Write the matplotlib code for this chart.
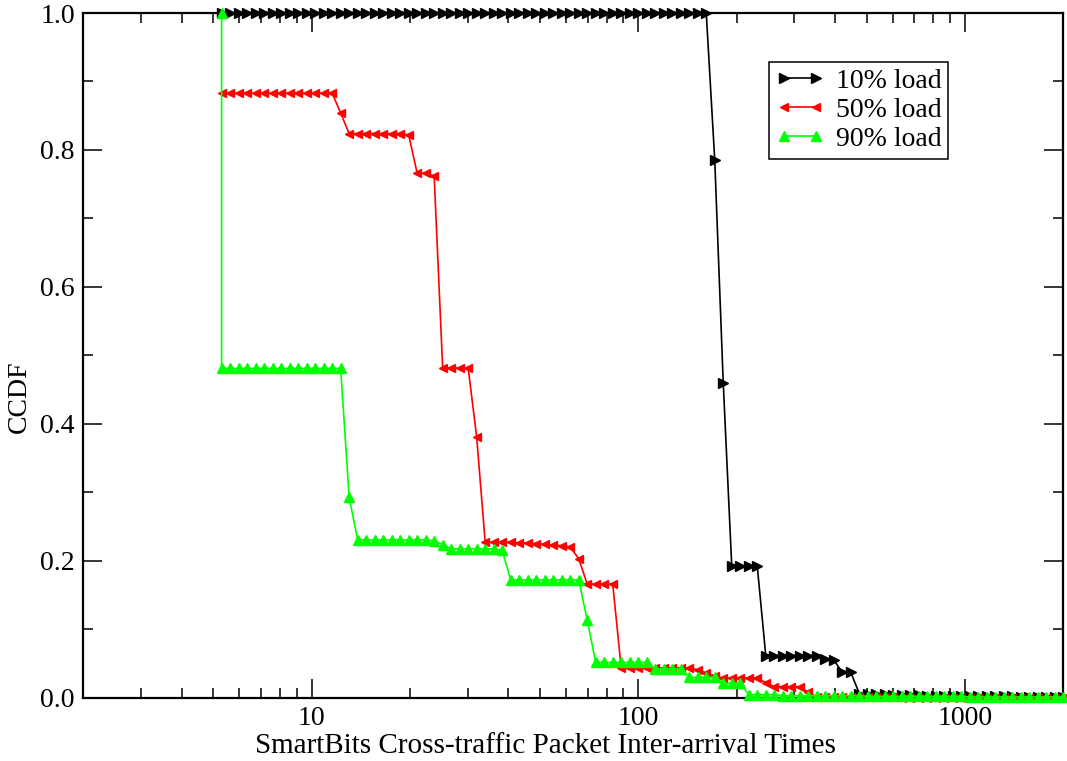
import numpy as np
import matplotlib
matplotlib.use('Agg')
import matplotlib.pyplot as plt
from matplotlib.ticker import LogLocator, FixedLocator, FuncFormatter, MultipleLocator

plt.rcParams['font.family'] = ['Liberation Serif', 'DejaVu Serif']
plt.rcParams['font.size'] = 20

# sample grid: 100 points evenly spaced on the log axis, 5.3 .. 2000
x_first = 5.3
x_last = 2000
n_points = 100

# CCDF curves as (level, run length) pairs
black_levels = [1.0, 0.785, 0.459, 0.192, 0.0614, 0.057, 0.055, 0.037,
                0.006, 0.005, 0.004, 0.003, 0.002, 0.001]
black_runs = [58, 1, 1, 4, 7, 1, 1, 2, 1, 3, 4, 5, 6, 6]

red_levels = [0.883, 0.854, 0.824, 0.822, 0.766, 0.762, 0.4815, 0.3806,
              0.227, 0.226, 0.225, 0.224, 0.223, 0.222, 0.220, 0.203, 0.166,
              0.043, 0.041, 0.036, 0.032, 0.0285, 0.022, 0.016, 0.008,
              0.001, 0.0]
red_runs = [14, 1, 7, 1, 2, 1, 4, 1,
            4, 2, 1, 1, 1, 1, 1, 1, 4,
            9, 1, 1, 1, 5, 1, 4, 1,
            10, 20]

green_levels = [0.481, 0.293, 0.2305, 0.229, 0.2237, 0.2174, 0.215, 0.172,
                0.1135, 0.0516, 0.042, 0.0297, 0.021, 0.0044,
                0.003, 0.002, 0.001]
green_runs = [15, 1, 9, 1, 1, 6, 1, 9,
              1, 7, 4, 4, 3, 4,
              10, 12, 12]

labels = ['10% load', '50% load', '90% load']

x = np.geomspace(x_first, x_last, n_points)
black = np.repeat(black_levels, black_runs)
red = np.repeat(red_levels, red_runs)
green = np.repeat(green_levels, green_runs)

fig = plt.figure(figsize=(10.67, 7.61), dpi=100)
ax = fig.add_axes([0.0781, 0.0832, 0.9185, 0.8997])

ax.plot(x, black, color='black', lw=1.2, marker='>', ms=7,
        label=labels[0], clip_on=False, zorder=3)
ax.plot(x, red, color='red', lw=1.2, marker='<', ms=5.5,
        label=labels[1], clip_on=False, zorder=4)
# the 90% curve starts with a vertical drop from CCDF = 1
ax.plot(np.concatenate([[x_first], x]), np.concatenate([[1.0], green]),
        color='#00ff00', lw=1.2, marker='^', ms=6.5,
        label=labels[2], clip_on=False, zorder=5)

ax.set_xscale('log')
ax.set_xlim(2, 2000)
ax.set_ylim(0, 1.0)

ax.xaxis.set_major_locator(FixedLocator([10, 100, 1000]))
ax.xaxis.set_minor_locator(LogLocator(base=10, subs=np.arange(2, 10)))
ax.xaxis.set_major_formatter(FuncFormatter(lambda v, p: '%d' % v))
ax.xaxis.set_minor_formatter(FuncFormatter(lambda v, p: ''))
ax.yaxis.set_major_locator(MultipleLocator(0.2))
ax.yaxis.set_minor_locator(MultipleLocator(0.1))
ax.yaxis.set_major_formatter(FuncFormatter(lambda v, p: '%.1f' % v))

ax.tick_params(which='both', direction='in', top=True, right=True, width=1.1)
ax.tick_params(which='major', length=14, pad=6)
ax.tick_params(which='minor', length=7)
for s in ax.spines.values():
    s.set_linewidth(1.6)
    s.set_zorder(2)

ax.set_xlabel('SmartBits Cross-traffic Packet Inter-arrival Times', fontsize=21)
ax.set_ylabel('CCDF')
ax.xaxis.set_label_coords(0.472, -0.052)
ax.yaxis.set_label_coords(-0.052, 0.44)

leg = ax.legend(loc='upper left', bbox_to_anchor=(0.6997, 0.9289),
                borderaxespad=0, fancybox=False, framealpha=1,
                edgecolor='black', numpoints=2, handlelength=1.75,
                handletextpad=0.4, labelspacing=0.12, borderpad=0.25)
leg.get_frame().set_linewidth(1.1)
leg.set_zorder(6)

plt.savefig('out.png', dpi=100)
